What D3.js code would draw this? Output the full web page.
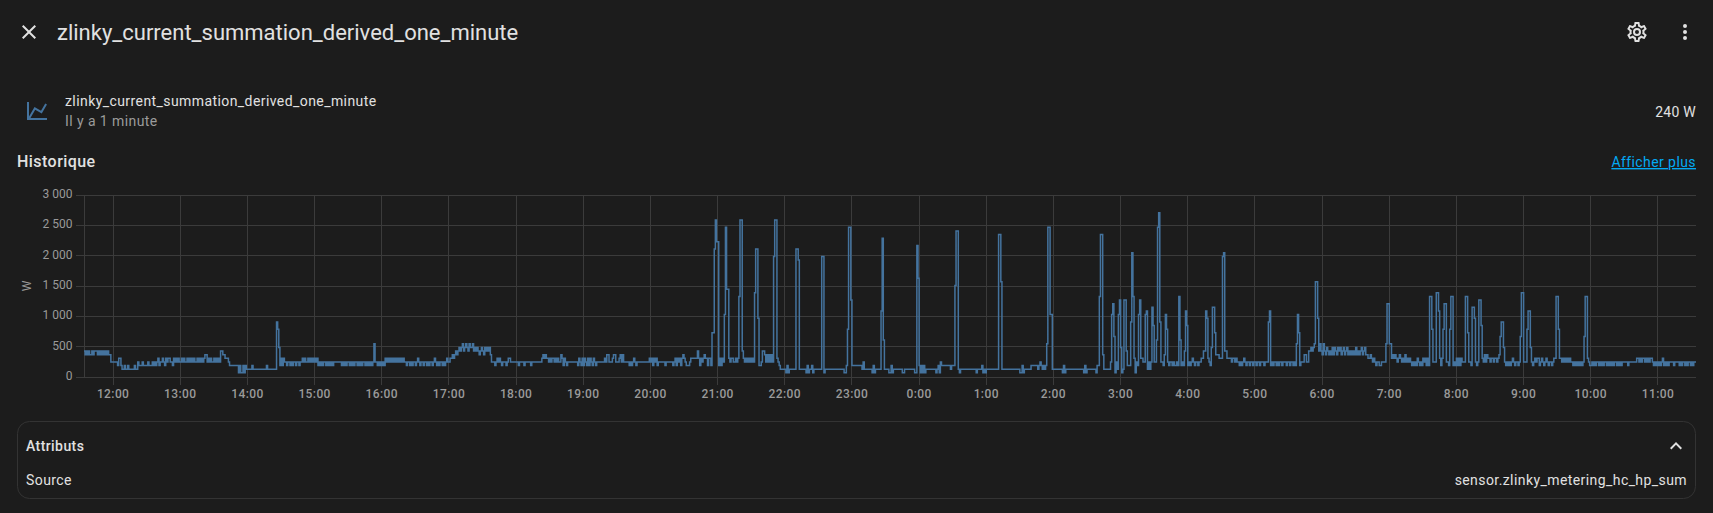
<!DOCTYPE html>
<html><head><meta charset="utf-8">
<script src="https://cdn.jsdelivr.net/npm/d3@7"></script>
<style>
html,body{margin:0;padding:0;background:#1c1c1c;overflow:hidden}
svg{display:block}
text{font-family:Roboto,sans-serif}
</style></head><body>
<svg id="c" width="1713" height="513"></svg>
<script>
// Watt readings, one value per minute, one array per clock hour.
const h1134=[420,360,420,360,420,360,360,420,360,420,420,420,360,420,360,420,360,420,360,420,360,420,360,360,240,240];
const h12=[240,240,240,240,180,300,300,180,120,120,180,120,120,180,120,120,120,120,120,180,120,120,240,180,180,180,240,180,180,180,180,240,180,180,180,240,180,240,180,240,300,180,240,240,300,240,180,300,240,300,300,240,240,180,300,240,300,240,300,240];
const h13=[240,300,240,300,240,240,300,240,300,240,300,240,300,240,240,300,240,300,240,300,240,300,360,360,240,300,240,300,240,240,300,240,300,240,300,240,420,420,360,360,300,300,300,240,180,180,180,180,180,180,180,180,60,180,60,60,180,60,180,120];
const h14=[120,120,120,120,180,120,120,120,120,120,120,120,120,120,120,120,120,180,120,120,120,120,120,120,120,120,900,780,480,180,300,180,300,240,240,180,240,240,180,240,180,240,240,180,240,240,180,240,240,300,240,300,240,240,300,240,300,240,300,240];
const h15=[300,240,300,180,240,180,240,180,240,240,180,240,180,240,180,240,180,240,240,240,240,240,240,240,180,240,180,240,180,240,240,180,240,180,240,180,240,240,180,240,180,240,180,240,240,180,240,180,240,180,240,180,240,540,240,240,180,240,180,240];
const h16=[180,240,180,300,240,300,240,300,240,300,240,300,240,300,240,300,240,300,240,300,240,240,180,240,240,180,240,180,240,240,180,240,300,240,180,240,240,180,240,240,180,240,180,240,240,180,240,300,240,180,240,180,240,240,180,240,180,240,300,240];
const h17=[240,300,300,360,300,360,420,360,420,480,420,480,540,420,480,540,480,420,540,480,480,540,420,480,420,480,420,360,420,480,420,360,480,420,480,420,480,360,240,240,240,180,240,300,240,300,240,180,240,240,240,180,240,300,300,240,240,240,240,240];
const h18=[240,240,180,240,240,240,240,180,240,240,240,240,240,180,240,240,240,240,240,240,240,240,240,300,360,300,360,300,300,240,300,240,300,300,240,300,240,300,240,240,360,300,180,300,240,180,240,240,240,240,240,240,240,240,240,180,300,240,180,300];
const h19=[180,300,240,180,300,180,300,240,180,300,240,180,240,240,240,240,240,240,240,300,240,360,360,240,240,240,300,360,360,240,240,240,300,360,240,360,240,240,240,240,240,180,240,180,240,300,240,180,240,240,240,240,240,240,240,240,240,240,240,300];
const h20=[240,300,180,300,240,300,180,240,240,240,240,240,240,180,240,240,240,240,240,240,180,240,300,180,300,240,300,180,300,360,300,240,180,180,180,240,300,300,300,300,300,300,420,300,180,300,240,300,360,300,300,180,300,300,180,720,720,2100,2580,2220];
const h21=[2220,180,300,180,300,240,1020,2460,1440,1440,300,240,300,300,240,240,300,240,300,1320,2580,2580,420,300,240,300,240,300,240,300,240,300,240,1380,2100,2100,960,180,180,240,420,420,360,240,360,240,360,240,360,240,1980,2580,2580,300,240,180,120,120,120,120];
const h22=[120,60,180,60,120,120,120,120,120,120,2100,2100,1920,120,120,120,120,120,120,60,180,60,120,120,180,60,120,120,120,120,120,120,120,1980,1980,60,120,120,120,120,120,120,120,120,120,120,120,120,120,120,120,120,120,60,60,180,780,2460,2460,1260];
const h23=[180,180,180,180,180,180,180,180,180,120,240,120,120,120,120,120,120,120,60,180,60,120,120,120,120,120,1080,2280,600,120,120,120,120,60,60,180,60,120,120,120,120,120,120,120,120,60,60,120,120,120,120,120,120,120,120,120,60,60,2160,1620];
const h0=[180,60,180,60,180,60,120,120,120,120,120,120,120,120,120,60,120,180,60,240,180,180,180,180,180,180,180,180,120,180,180,180,1500,2400,2400,120,60,120,120,120,120,120,120,120,120,120,120,120,120,120,120,60,120,120,120,120,180,60,120,60];
const h1=[120,120,120,120,120,120,120,120,120,120,120,2340,2340,1560,120,120,120,120,120,120,120,120,120,120,120,120,120,120,120,120,60,60,180,60,120,120,120,120,120,120,180,180,180,180,180,180,120,180,240,180,120,180,120,180,540,2460,2460,1020,1020,120];
const h2=[120,120,120,120,120,120,120,120,60,180,60,120,120,120,120,120,120,120,120,120,120,120,120,120,120,120,120,60,180,60,120,120,120,120,120,120,120,120,60,180,180,1320,2340,2340,360,120,120,120,120,120,120,240,1020,1200,660,60,240,120,1020,1260];
const h3=[480,60,120,1260,1260,420,180,180,180,900,2040,1320,300,60,240,180,1020,1260,300,300,240,240,1020,1080,120,240,120,240,1140,840,240,240,600,2460,2700,900,240,240,180,360,1020,780,240,180,240,240,180,240,180,180,240,180,1320,600,180,240,180,420,1080,840];
const h4=[180,240,180,240,300,240,180,240,240,180,240,240,300,300,420,420,1080,960,300,240,180,480,1140,1140,720,360,360,360,300,300,300,1980,2040,420,420,300,300,300,300,240,300,300,240,300,240,240,180,240,180,240,300,240,180,240,240,180,240,240,180,240];
const h5=[240,180,240,240,180,240,240,240,180,240,240,240,900,1080,180,240,180,240,240,180,240,180,240,240,180,240,240,240,180,240,240,180,240,240,180,240,180,540,1020,720,180,240,240,240,360,360,240,240,420,420,480,420,480,540,1560,1560,960,420,540,420];
const h6=[360,540,420,360,480,420,360,420,360,480,360,480,420,360,480,420,480,360,420,480,360,420,480,360,420,360,420,360,420,360,480,360,420,360,420,480,360,420,480,360,360,300,300,360,300,240,300,240,180,240,240,180,180,240,240,240,240,540,1200,1200];
const h7=[540,540,300,360,300,360,300,240,300,360,300,240,300,240,360,240,300,240,300,240,180,240,180,240,180,300,240,180,240,180,300,240,300,180,300,180,1320,1320,780,240,240,240,1380,1380,1080,300,180,300,780,1200,1200,240,240,180,780,1320,1320,180,240,180];
const h8=[300,180,300,180,300,240,240,240,1320,1320,720,240,240,180,1140,1140,960,240,180,240,1260,1260,840,300,240,360,240,360,300,300,240,300,300,240,300,300,240,300,360,660,900,900,480,240,180,240,180,240,180,240,300,240,180,240,240,180,240,660,1380,1380];
const h9=[240,240,240,780,1080,1080,480,240,180,240,300,240,300,300,180,240,300,240,180,240,300,240,180,240,240,180,240,300,300,1320,1320,780,300,300,240,300,240,300,240,300,240,300,240,240,180,240,180,240,180,240,180,240,180,240,660,1320,1320,300,240,180];
const h10=[180,240,180,240,180,240,240,180,240,180,240,180,240,240,180,240,180,240,180,240,180,240,240,180,240,180,240,180,240,240,240,240,240,180,240,240,240,240,240,240,240,300,300,240,300,240,300,300,240,300,240,300,240,300,300,240,180,240,180,240];
const h11=[180,240,180,240,300,180,240,180,240,180,240,240,240,240,180,240,240,240,240,180,240,180,240,240,180,240,180,240,240,180,240,180,240,240];

const hourBlocks=[h12,h13,h14,h15,h16,h17,h18,h19,h20,h21,h22,h23,h0,h1,h2,h3,h4,h5,h6,h7,h8,h9,h10,h11];
const yTicks=[0,500,1000,1500,2000,2500,3000];
const yUnit="W";
const titleText="zlinky_current_summation_derived_one_minute";

hourBlocks.slice(0,-1).forEach((a,i)=>{ if(a.length!==60) throw new Error("bad hour block "+i+" length "+a.length); });
if(h1134.length!==26||h11.length!==34) throw new Error("bad partial "+h1134.length+" "+h11.length);

const t0=new Date(2024,0,1,11,34), t1=new Date(2024,0,2,11,34);
const points=[];
h1134.forEach((v,i)=>points.push({t:new Date(+t0+i*60000),v}));
hourBlocks.forEach((arr,h)=>{
  const base=new Date(2024,0,1,12+h,0);
  arr.forEach((v,i)=>points.push({t:new Date(+base+i*60000),v}));
});
points.push({t:t1,v:h11[h11.length-1]});

const L=84,R=1696,T=194.5,B=376.5;
const x=d3.scaleTime().domain([t0,t1]).range([L,R]);
const y=d3.scaleLinear().domain([0,3000]).range([B,T]);
const svg=d3.select("#c");
const grid="#3b3b3b", axisTxt="#9a9a9a";

// grid
const hours=d3.timeHour.range(new Date(2024,0,1,12),t1);
svg.append("g").selectAll("line").data(yTicks).join("line")
  .attr("x1",L-8).attr("x2",R).attr("y1",d=>Math.round(y(d))).attr("y2",d=>Math.round(y(d)))
  .attr("stroke",grid).attr("shape-rendering","crispEdges");
svg.append("g").selectAll("line").data(hours).join("line")
  .attr("x1",d=>x(d)).attr("x2",d=>x(d)).attr("y1",T).attr("y2",B+8)
  .attr("stroke",grid).attr("shape-rendering","crispEdges");
svg.append("line").attr("x1",L).attr("x2",L).attr("y1",T).attr("y2",B)
  .attr("stroke",grid).attr("shape-rendering","crispEdges");

// tick labels
const fmtY=v=>v>=1000?d3.format("d")(Math.floor(v/1000))+"\u00a0"+d3.format("03d")(v%1000):String(v);
svg.append("g").selectAll("text").data(yTicks).join("text")
  .attr("x",72.5).attr("y",d=>y(d)+3.5).attr("text-anchor","end")
  .attr("font-size",12).attr("fill",axisTxt).text(fmtY);
const fmtX=d3.timeFormat("%-H:%M");
svg.append("g").selectAll("text").data(hours).join("text")
  .attr("x",d=>x(d)).attr("y",398).attr("text-anchor","middle").attr("letter-spacing",0.4)
  .attr("font-size",12).attr("font-weight",500).attr("fill",axisTxt).text(fmtX);
svg.append("text").attr("transform","translate(31,286) rotate(-90)").attr("text-anchor","middle")
  .attr("font-size",12).attr("fill",axisTxt).text(yUnit);

// series
const line=d3.line().x(d=>x(d.t)).y(d=>y(d.v)).curve(d3.curveStepAfter);
svg.append("path").datum(points).attr("d",line).attr("fill","none")
  .attr("stroke","#44739e").attr("stroke-width",1.5).attr("stroke-linejoin","miter");

// page chrome
const txt=(s,xx,yy,size,fill,opt={})=>svg.append("text").attr("x",xx).attr("y",yy).attr("font-size",size)
  .attr("fill",fill).attr("font-weight",opt.w||400).attr("text-anchor",opt.a||"start")
  .attr("letter-spacing",opt.ls||null)
  .attr("text-decoration",opt.d||null).text(s);
const icon=(p,cx,cy,fill)=>svg.append("path").attr("d",p).attr("fill",fill)
  .attr("transform",`translate(${cx-12},${cy-12})`);
const fg="#e1e1e1";
icon("M19,6.41L17.59,5L12,10.59L6.41,5L5,6.41L10.59,12L5,17.59L6.41,19L12,13.41L17.59,19L19,17.59L13.41,12L19,6.41Z",29,32,fg);
txt(titleText,57,40,22,fg);
icon("M12,8A4,4 0 0,1 16,12A4,4 0 0,1 12,16A4,4 0 0,1 8,12A4,4 0 0,1 12,8M12,10A2,2 0 0,0 10,12A2,2 0 0,0 12,14A2,2 0 0,0 14,12A2,2 0 0,0 12,10M10,22C9.75,22 9.54,21.82 9.5,21.58L9.13,18.93C8.5,18.68 7.96,18.34 7.44,17.94L4.95,18.95C4.73,19.03 4.46,18.95 4.34,18.73L2.34,15.27C2.21,15.05 2.27,14.78 2.46,14.63L4.57,12.97L4.5,12L4.57,11L2.46,9.37C2.27,9.22 2.21,8.95 2.34,8.73L4.34,5.27C4.46,5.05 4.73,4.96 4.95,5.05L7.44,6.05C7.96,5.66 8.5,5.32 9.13,5.07L9.5,2.42C9.54,2.18 9.75,2 10,2H14C14.25,2 14.46,2.18 14.5,2.42L14.87,5.07C15.5,5.32 16.04,5.66 16.56,6.05L19.05,5.05C19.27,4.96 19.54,5.05 19.66,5.27L21.66,8.73C21.79,8.95 21.73,9.22 21.54,9.37L19.43,11L19.5,12L19.43,13L21.54,14.63C21.73,14.78 21.79,15.05 21.66,15.27L19.66,18.73C19.54,18.95 19.27,19.04 19.05,18.95L16.56,17.95C16.04,18.34 15.5,18.68 14.87,18.93L14.5,21.58C14.46,21.82 14.25,22 14,22H10M11.25,4L10.88,6.61C9.68,6.86 8.62,7.5 7.85,8.39L5.44,7.35L4.69,8.65L6.8,10.2C6.4,11.37 6.4,12.64 6.8,13.8L4.68,15.36L5.43,16.66L7.86,15.62C8.63,16.5 9.68,17.14 10.87,17.38L11.24,20H12.76L13.13,17.39C14.32,17.14 15.37,16.5 16.14,15.62L18.57,16.66L19.32,15.36L17.2,13.81C17.6,12.64 17.6,11.37 17.2,10.2L19.31,8.65L18.56,7.35L16.15,8.39C15.38,7.5 14.32,6.86 13.12,6.62L12.75,4H11.25Z",1637,32,fg);
icon("M12,16A2,2 0 0,1 14,18A2,2 0 0,1 12,20A2,2 0 0,1 10,18A2,2 0 0,1 12,16M12,10A2,2 0 0,1 14,12A2,2 0 0,1 12,14A2,2 0 0,1 10,12A2,2 0 0,1 12,10M12,4A2,2 0 0,1 14,6A2,2 0 0,1 12,8A2,2 0 0,1 10,6A2,2 0 0,1 12,4Z",1685,32,fg);
icon("M16,11.78L20.24,4.45L21.97,5.45L16.74,14.5L10.23,10.75L5.46,19H22V21H2V3H4V17.54L9.5,8L16,11.78Z",37,111,"#44739e");
txt(titleText,65,106,14,fg,{ls:0.42});
txt("Il y a 1 minute",65,126,14,"#9b9b9b",{ls:0.42});
txt("240 W",1696,117,14,fg,{a:"end",ls:0.25});
txt("Historique",17,167,16,fg,{w:500,ls:0.45});
txt("Afficher plus",1696,167,14,"#03a9f4",{a:"end",d:"underline",ls:0.42});
svg.append("rect").attr("x",17.5).attr("y",421.5).attr("width",1678).attr("height",77).attr("rx",12)
  .attr("fill","none").attr("stroke","#333333");
txt("Attributs",26,451,14,fg,{w:500,ls:0.42});
txt("Source",26,485,14,fg,{ls:0.42});
txt("sensor.zlinky_metering_hc_hp_sum",1687,485,14,fg,{a:"end",ls:0.42});
icon("M7.41,15.41L12,10.83L16.59,15.41L18,14L12,8L6,14L7.41,15.41Z",1676,446,fg);
</script></body></html>
